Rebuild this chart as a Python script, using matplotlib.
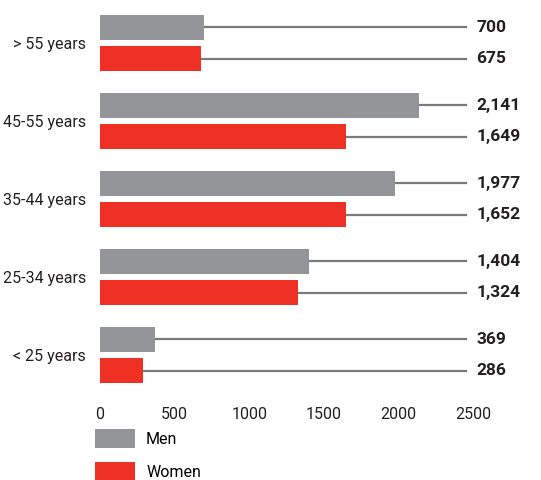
import matplotlib.pyplot as plt
import numpy as np

plt.rcParams['font.family'] = ['Roboto', 'DejaVu Sans']

ages = ['< 25 years', '25-34 years', '35-44 years', '45-55 years', '> 55 years']
men = [369, 1404, 1977, 2141, 700]
women = [286, 1324, 1652, 1649, 675]

grey = '#949599'
red = '#ee3124'
line_end = 2453

fig = plt.figure(figsize=(5.41, 4.8), dpi=100)
W, H = 541, 480
ax = fig.add_axes([100 / W, 1 - 390 / H, 373 / W, 380 / H])

y = np.arange(len(ages))
off = 0.2
h = 0.32

b1 = ax.barh(y + off, men, height=h, color=grey, label='Men', zorder=3)
b2 = ax.barh(y - off, women, height=h, color=red, label='Women', zorder=3)

# leader lines out to the value labels
for yy, v in zip(y + off, men):
    ax.plot([v, line_end], [yy, yy], color='#7a7b7e', lw=1.6, clip_on=False, zorder=2)
    ax.text(line_end + 70, yy, f'{v:,}', va='center', ha='left', fontsize=12.5,
            fontweight='bold', color='#231f20', clip_on=False)
for yy, v in zip(y - off, women):
    ax.plot([v, line_end], [yy, yy], color='#7a7b7e', lw=1.6, clip_on=False, zorder=2)
    ax.text(line_end + 70, yy, f'{v:,}', va='center', ha='left', fontsize=12.5,
            fontweight='bold', color='#231f20', clip_on=False)

ax.set_xlim(0, 2500)
ax.set_ylim(-0.449, 4.423)
ax.set_xticks([0, 500, 1000, 1500, 2000, 2500])
ax.set_yticks(y)
ax.set_yticklabels(ages)
ax.tick_params(axis='both', length=0, labelsize=11.5, colors='#231f20')
ax.tick_params(axis='x', pad=12)
ax.tick_params(axis='y', pad=10)
for s in ax.spines.values():
    s.set_visible(False)

fig.legend(handles=[b1, b2], loc='upper left', bbox_to_anchor=(87 / W, 1 - 421 / H),
           frameon=False, borderpad=0, fontsize=11.5, handlelength=2.5,
           handleheight=1.5, handletextpad=0.7, labelspacing=0.85)

fig.savefig('out.png', dpi=100)
